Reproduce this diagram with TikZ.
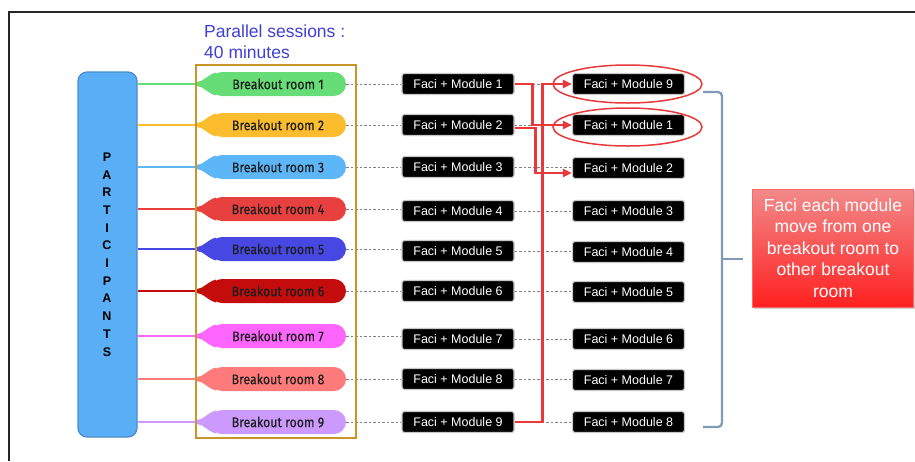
\documentclass[tikz,border=0pt]{standalone}
\usepackage{fontspec}
\setmainfont{Liberation Sans}
\newfontfamily\condfont[FakeStretch=0.88,FakeBold=0.4]{Fira Sans}
\usetikzlibrary{arrows.meta,shadows,shapes.geometric,calc}
\definecolor{cA}{HTML}{66DD77}
\definecolor{cB}{HTML}{FBBD2E}
\definecolor{cC}{HTML}{5DB6F7}
\definecolor{cD}{HTML}{E8403F}
\definecolor{cE}{HTML}{4747E3}
\definecolor{cF}{HTML}{C40C0C}
\definecolor{cG}{HTML}{FF66FF}
\definecolor{cH}{HTML}{FF7B7B}
\definecolor{cI}{HTML}{CC99FF}
\definecolor{goldc}{HTML}{C8952B}
\definecolor{partfill}{HTML}{5AAEF5}
\definecolor{partdraw}{HTML}{4A8CCB}
\definecolor{redc}{HTML}{E8383A}
\definecolor{bracec}{HTML}{7F9BB5}
\definecolor{titlec}{HTML}{3F3FD6}
\begin{document}
\begin{tikzpicture}[x=1pt,y=-1pt,
  faci/.style={fill=black, draw=black!22, line width=1.2pt, rounded corners=2.5pt,
    minimum width=112pt, minimum height=21pt, inner sep=0pt, text=white,
    font=\fontsize{12.5}{14}\selectfont},
  pill/.style={fill=#1, rounded corners=12pt, minimum width=136pt, minimum height=24pt,
    inner sep=0pt, text=black!88, font=\condfont\fontsize{14}{16}\selectfont},
  feed/.style={draw=#1, line width=2.8pt},
  dotline/.style={draw=black!50, dash pattern=on 2.5pt off 2pt, line width=0.7pt},
  redcon/.style={draw=redc, line width=2.4pt, -{Triangle[length=9pt,width=8pt]}},
]
\useasboundingbox (0,0) rectangle (915,461);
% frame
\draw[line width=1.6pt, black!85] (9,461) -- (9,12) -- (915,12);
% title
\node[anchor=west, align=left, text=titlec, font=\fontsize{17.5}{21}\selectfont, inner sep=0pt] (title) at (204,41.5) {Parallel sessions :\\40 minutes};
% participants
\node[draw=partdraw, fill=partfill, rounded corners=9pt, minimum width=59pt, minimum height=365pt, line width=1.2pt, inner sep=0pt] (P) at (107.5,254.5) {};
\foreach \l [count=\i from 0] in {P,A,R,T,I,C,I,P,A,N,T,S}
  \node[font=\bfseries\fontsize{12.5}{12}\selectfont, inner sep=0pt] (L\i) at (107,157+\i*17.7) {\l};
% rows
\foreach \i/\yp/\ya/\yb/\c/\m in {1/84/84/84/cA/9, 2/125/125/125/cB/1, 3/167/167/168/cC/2, 4/209/211/211/cD/3, 5/249/251/252/cE/4, 6/291/291/292/cF/5, 7/336/339/339/cG/6, 8/379/379/380/cH/7, 9/422/422/422/cI/8}{
  \coordinate (t\i) at (197,\yp);
  \draw[feed=\c] (P.east |- t\i) -- (t\i);
  \node[pill=\c] (r\i) at (278,\yp) {Breakout room \i};
  \fill[\c] (197,\yp-2) .. controls (204,\yp-2.5) and (207,\yp-9) .. (216,\yp-11.5)
     -- (216,\yp+11.5) .. controls (207,\yp+9) and (204,\yp+2.5) .. (197,\yp+2) -- cycle;
  \node[faci] (a\i) at (458,\ya) {Faci + Module \i};
  \node[faci] (b\i) at (628.5,\yb) {Faci + Module \m};
  \draw[dotline] (r\i.east) -- (r\i.east -| a\i.west);
  \draw[dotline] (a\i.east) -- (a\i.east -| b\i.west);
}
% gold box
\node[draw=goldc, line width=2.5pt, minimum width=160pt, minimum height=373pt, inner sep=0pt] (G) at (276,251.5) {};
% red connectors
\draw[redcon] (a1.east) -- ++(18,0) |- (b2.west);
\draw[redcon] ([yshift=-3pt]a2.east) -- ++(21,0) |- ([yshift=-5pt]b3.west);
\draw[redcon] (a9.east) -- ++(28,0) |- (b1.west);
% ellipses
\node[draw=redc, ellipse, line width=1.5pt, minimum width=149pt, minimum height=38pt, inner sep=0pt] (e1) at (627.5,84) {};
\node[draw=redc, ellipse, line width=1.5pt, minimum width=149pt, minimum height=38pt, inner sep=0pt] (e2) at (627.5,127) {};
% brace
\coordinate (bt) at (703,92);
\coordinate (bb) at (703,427);
\coordinate (bm) at (722,259);
\coordinate (bx) at (743,259);
\draw[bracec, line width=2.3pt, rounded corners=4pt] (bt) -- (bt -| bm) -- (bb -| bm) -- (bb);
\draw[bracec, line width=2.3pt] (bm) -- (bx);
% message box
\node[top color={rgb,255:red,242;green,138;blue,138}, bottom color={rgb,255:red,255;green,32;blue,32},
  draw=red!60!white, line width=0.6pt, drop shadow={shadow xshift=1pt, shadow yshift=-1.5pt, fill=black!40},
  minimum width=161pt, minimum height=118pt, inner sep=0pt, text=white, align=center,
  font=\fontsize{17.5}{21.5}\selectfont] (M) at (833,248)
  {Faci each module\\move from one\\breakout room to\\other breakout\\room};
\end{tikzpicture}
\end{document}
